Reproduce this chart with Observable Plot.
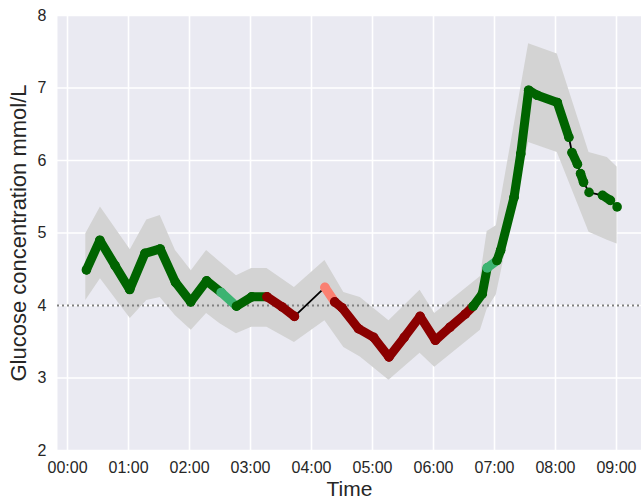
<!DOCTYPE html>
<html><head><meta charset="utf-8">
<script src="https://cdn.jsdelivr.net/npm/d3@7"></script>
<script src="https://cdn.jsdelivr.net/npm/@observablehq/plot@0.6"></script>
<style>body{margin:0;background:#fff;}</style>
</head><body><div id="chart"></div>
<script>
const DG = "#006400", LG = "#3cb371", DR = "#8b0000", SA = "#fa8072";

// glucose readings (time in hours since 00:00)
const times   = [0.31,0.53,0.78,1.02,1.27,1.52,1.77,2.02,2.28,2.52,2.77,3.02,3.27,3.52,3.72,4.22,4.38,4.50,4.77,5.02,5.27,5.52,5.78,6.03,6.27,6.52,6.65,6.80,6.88,7.04,7.10,7.32,7.43,7.56,7.70,8.03,8.22,8.27,8.36,8.41,8.46,8.55,8.77,8.90,9.01];
const glucose = [4.49,4.90,4.55,4.22,4.72,4.78,4.32,4.05,4.34,4.18,3.99,4.12,4.12,3.98,3.85,4.25,4.05,3.97,3.68,3.56,3.29,3.56,3.85,3.52,3.70,3.88,3.99,4.16,4.52,4.62,4.76,5.49,6.09,6.97,6.90,6.80,6.32,6.11,5.95,5.82,5.70,5.56,5.52,5.45,5.36];
const pointColor = [DG,DG,DG,DG,DG,DG,DG,DG,DG,LG,DG,DG,DR,DR,DR,SA,DR,DR,DR,DR,DR,DR,DR,DR,DR,DR,DG,DG,LG,DG,DG,DG,DG,DG,DG,DG,DG,DG,DG,DG,DG,DG,DG,DG,DG];
// 1 = dense (thick) segment to the next reading, 0 = sparse (thin black line)
const thick = [1,1,1,1,1,1,1,1,1,1,1,1,1,1,0,1,1,1,1,1,1,1,1,1,1,1,1,1,1,1,1,1,1,1,1,1,0,1,0,1,0,0,1,0,0];

// confidence band
const bandTimes = [0.30,0.54,1.03,1.30,1.52,1.77,2.03,2.28,2.50,2.77,3.02,3.27,3.72,4.22,4.53,4.80,5.27,5.78,6.02,6.77,6.88,7.03,7.56,8.03,8.55,8.85,9.01];
const bandLower = [4.07,4.37,3.82,4.07,4.11,3.86,3.66,3.89,3.75,3.61,3.70,3.70,3.49,3.79,3.42,3.29,2.97,3.34,3.15,3.66,3.95,4.15,6.25,6.11,5.01,4.90,4.85];
const bandUpper = [4.99,5.36,4.77,5.18,5.24,4.76,4.48,4.76,4.60,4.41,4.51,4.51,4.25,4.62,4.18,4.11,3.79,4.21,3.89,4.40,5.02,5.10,7.61,7.47,6.11,6.04,5.91];

const xTicks = [0,1,2,3,4,5,6,7,8,9];
const xTickLabels = ["00:00","01:00","02:00","03:00","04:00","05:00","06:00","07:00","08:00","09:00"];
const yTicks = [2,3,4,5,6,7,8];
const yTickLabels = ["2","3","4","5","6","7","8"];
const threshold = [4];

const pts = times.map((t, i) => ({t, g: glucose[i], c: pointColor[i], thick: thick[i]}));
const segs = pts.slice(0, -1)
  .map((p, i) => ({t1: p.t, g1: p.g, t2: pts[i + 1].t, g2: pts[i + 1].g, c: p.c, thick: p.thick}))
  .filter(s => s.thick);
const band = bandTimes.map((t, i) => ({t, lo: bandLower[i], hi: bandUpper[i]}));

const ink = "#262626";
const chart = Plot.plot({
  width: 641, height: 501,
  marginLeft: 57, marginRight: 0, marginTop: 15, marginBottom: 51,
  style: {fontFamily: "'Liberation Sans', Arial, sans-serif", background: "#fff", color: ink},
  x: {domain: [-0.164, 9.41]},
  y: {domain: [2, 8]},
  color: {type: "identity"},
  marks: [
    Plot.frame({fill: "#eaeaf2", stroke: "none"}),
    Plot.gridX(xTicks, {stroke: "#fff", strokeOpacity: 1, strokeWidth: 1.6}),
    Plot.gridY(yTicks, {stroke: "#fff", strokeOpacity: 1, strokeWidth: 1.6}),
    Plot.areaY(band, {x: "t", y1: "lo", y2: "hi", fill: "#d3d3d3"}),
    Plot.ruleY(threshold, {stroke: "#808080", strokeWidth: 2, strokeDasharray: "2,3"}),
    Plot.line(pts, {x: "t", y: "g", stroke: "#000", strokeWidth: 1.8}),
    Plot.link(segs, {x1: "t1", y1: "g1", x2: "t2", y2: "g2", stroke: "c", strokeWidth: 9, strokeLinecap: "round"}),
    Plot.dot(pts, {x: "t", y: "g", fill: "c", r: 4.8}),
    Plot.axisX(xTicks, {tickSize: 0, tickPadding: 11, fontSize: 16, fill: ink, label: null,
      tickFormat: d => xTickLabels[xTicks.indexOf(d)]}),
    Plot.axisY(yTicks, {tickSize: 0, tickPadding: 11, fontSize: 16, fill: ink, label: null,
      tickFormat: d => yTickLabels[yTicks.indexOf(d)]}),
    Plot.text(["Time"], {frameAnchor: "bottom", dy: 39, fontSize: 21, fill: ink, textAnchor: "middle", lineAnchor: "middle"}),
    Plot.text(["Glucose concentration mmol/L"], {frameAnchor: "left", dx: -38.5, rotate: -90, fontSize: 22, fill: ink, textAnchor: "middle", lineAnchor: "middle"})
  ]
});
document.getElementById("chart").appendChild(chart);
</script>
</body></html>
